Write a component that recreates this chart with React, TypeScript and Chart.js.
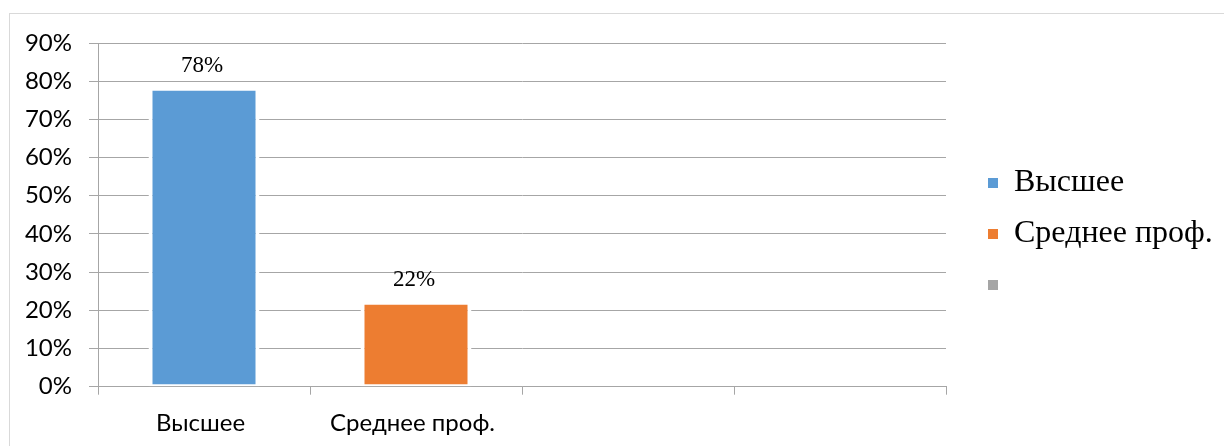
import React, { useEffect, useRef } from "react";
import { Chart, registerables } from "chart.js";

Chart.register(...registerables);

const categories = ["Высшее", "Среднее проф.", "", ""];
const values: (number | null)[] = [0.78, 0.22, null, null];
const legendLabels = ["Высшее", "Среднее проф.", ""];
const barColors = ["#5B9BD5", "#ED7D31", "#A5A5A5", "#FFC000"];
const yMin = 0;
const yMax = 0.9;
const yStep = 0.1;

const GRID = "#a6a6a6";
const TARGET_RIGHT = 946;

export default function App() {
  const ref = useRef<HTMLCanvasElement>(null);

  useEffect(() => {
    document.body.style.overflow = "hidden";
    const canvas = ref.current!;

    const dataLabelPlugin = {
      id: "dataLabels",
      afterDatasetsDraw(chart: any) {
        const ctx = chart.ctx;
        const meta = chart.getDatasetMeta(0);
        ctx.save();
        ctx.font = "23px 'Liberation Serif'";
        ctx.fillStyle = "#000";
        ctx.textAlign = "center";
        ctx.textBaseline = "alphabetic";
        meta.data.forEach((el: any, i: number) => {
          const v = values[i];
          if (v == null) return;
          ctx.fillText(Math.round(v * 100) + "%", el.x - 2, el.y - 16.5);
        });
        ctx.restore();
      },
    };

    const chart = new Chart(canvas, {
      type: "bar",
      data: {
        labels: categories,
        datasets: [
          {
            data: values as any,
            backgroundColor: barColors,
            borderColor: "#ffffff",
            borderWidth: { top: 2, left: 4, right: 4, bottom: 2 } as any,
            borderSkipped: false,
            barPercentage: 0.5236,
            categoryPercentage: 1,
          },
        ],
      },
      options: {
        responsive: false,
        animation: false,
        devicePixelRatio: 1,
        layout: { padding: { left: 8, top: 43, right: 0, bottom: 0 } },
        scales: {
          x: {
            z: 1,
            grid: {
              display: true,
              drawOnChartArea: false,
              drawTicks: true,
              tickLength: 8,
              color: GRID,
              offset: true,
            },
            border: { display: true, color: GRID },
            ticks: {
              color: "#000",
              padding: 14,
              maxRotation: 0,
              autoSkip: false,
              labelOffset: -3.5,
              font: { family: "Lato", size: 24 },
            },
            afterFit: (s: any) => {
              s.height = 59.3;
            },
          },
          y: {
            min: yMin,
            max: yMax,
            grid: { color: GRID, tickLength: 9, drawTicks: true },
            border: { display: true, color: GRID },
            ticks: {
              stepSize: yStep,
              padding: 17,
              color: "#000",
              font: { family: "Lato", size: 24 },
              callback: (v: any) => Math.round(Number(v) * 100) + "%",
            },
            afterFit: (s: any) => {
              s.width = 90;
            },
          },
          y2: {
            position: "right",
            display: false,
            afterFit: (s: any) => {
              s.width = 23;
            },
          },
        },
        plugins: {
          tooltip: { enabled: false },
          legend: {
            position: "right",
            align: "start",
            onClick: () => {},
            title: {
              display: true,
              text: " ",
              padding: { top: 90.6, bottom: 0 } as any,
              font: { size: 12 },
            },
            labels: {
              boxWidth: 10,
              boxHeight: 10,
              padding: 19,
              color: "#000",
              font: { family: "'Liberation Serif'", size: 32 },
              generateLabels: () =>
                legendLabels.map((t, i) => ({
                  text: t,
                  fillStyle: barColors[i],
                  strokeStyle: barColors[i],
                  fontColor: "#000",
                  lineWidth: 0,
                  hidden: false,
                  index: i,
                  datasetIndex: 0,
                })),
            },
          },
        },
      },
      plugins: [dataLabelPlugin],
    });

    const diff = TARGET_RIGHT - chart.chartArea.right;
    if (Math.abs(diff) > 0.5) {
      const pad = chart.options.layout!.padding as any;
      pad.right = Math.max(0, (pad.right || 0) - diff);
      chart.update();
    }

    return () => chart.destroy();
  }, []);

  return (
    <div>
      <div
        style={{
          position: "fixed",
          left: 9,
          top: 13,
          width: 1400,
          height: 600,
          border: "1px solid #d9d9d9",
          boxSizing: "border-box",
          pointerEvents: "none",
        }}
      />
      <canvas
        ref={ref}
        width={1224}
        height={446}
        style={{ position: "fixed", left: 0, top: 0, width: 1224, height: 446 }}
      />
    </div>
  );
}
